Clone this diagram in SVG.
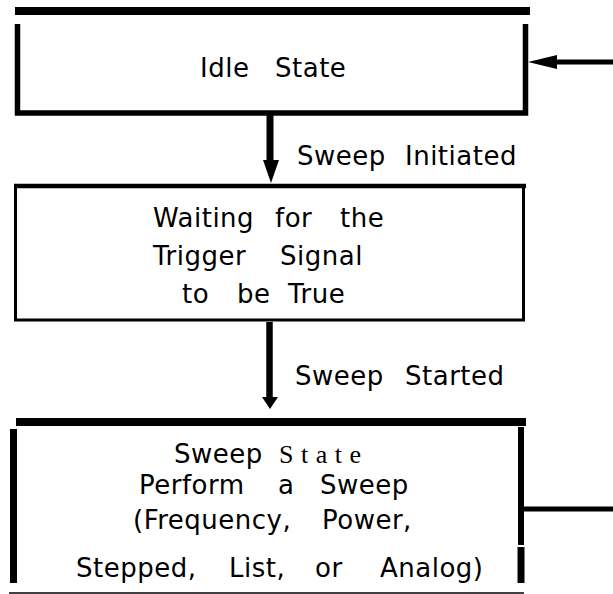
<svg xmlns="http://www.w3.org/2000/svg" width="613" height="594" viewBox="0 0 613 594">
<style>
.t{font-family:"DejaVu Sans","Liberation Sans",sans-serif;font-size:26px;letter-spacing:0.5px;fill:#000}
.s{font-family:"Liberation Serif","Times New Roman",serif;font-size:26px;letter-spacing:7.5px;fill:#000}
.k{stroke:#000;fill:none;stroke-linecap:butt}
</style>
<rect width="613" height="594" fill="#fff"/>
<g id="idle">
<line class="k" x1="15" y1="11" x2="530" y2="11" stroke-width="8"/>
<polyline class="k" points="17.5,24 17.5,113 525.5,113 525.5,24" stroke-width="5.5"/>
<text class="t" y="77"><tspan x="200">Idle</tspan><tspan x="275">State</tspan></text>
</g>
<g id="waiting">
<line class="k" x1="14" y1="186" x2="526" y2="186" stroke-width="4.5"/>
<polyline class="k" points="15.5,186 15.5,320 523.5,320 523.5,186" stroke-width="3"/>
<text class="t" y="227"><tspan x="153">Waiting</tspan><tspan x="275">for</tspan><tspan x="340">the</tspan></text>
<text class="t" y="265"><tspan x="153">Trigger</tspan><tspan x="280">Signal</tspan></text>
<text class="t" y="303"><tspan x="182">to</tspan><tspan x="237">be</tspan><tspan x="288">True</tspan></text>
</g>
<g id="sweep">
<line class="k" x1="16" y1="422" x2="526" y2="422" stroke-width="8"/>
<line class="k" x1="13.5" y1="429" x2="13.5" y2="583" stroke-width="7"/>
<line class="k" x1="521" y1="427" x2="521" y2="545" stroke-width="6"/>
<line class="k" x1="521" y1="547" x2="521" y2="583" stroke-width="7"/>
<line class="k" x1="9" y1="593" x2="524" y2="593" stroke-width="1.5"/>
<text class="t" y="463"><tspan x="174">Sweep</tspan><tspan class="s" x="279">State</tspan></text>
<text class="t" y="494"><tspan x="139">Perform</tspan><tspan x="278">a</tspan><tspan x="320">Sweep</tspan></text>
<text class="t" y="529"><tspan x="133">(Frequency,</tspan><tspan x="322">Power,</tspan></text>
<text class="t" y="577"><tspan x="76">Stepped,</tspan><tspan x="229">List,</tspan><tspan x="315">or</tspan><tspan x="380">Analog)</tspan></text>
</g>
<g id="connectors">
<line class="k" x1="613" y1="62" x2="553" y2="62" stroke-width="5"/>
<polygon points="528,62 557,55 557,69" fill="#000"/>
<line class="k" x1="270" y1="115" x2="270" y2="162" stroke-width="7"/>
<polygon points="271,183 263,160 279,160" fill="#000"/>
<line class="k" x1="269.5" y1="322" x2="269.5" y2="400" stroke-width="6.5"/>
<polygon points="270,409 262,397 278,397" fill="#000"/>
<line class="k" x1="524" y1="509" x2="613" y2="509" stroke-width="5"/>
<text class="t" y="165"><tspan x="297">Sweep</tspan><tspan x="405">Initiated</tspan></text>
<text class="t" y="385"><tspan x="295">Sweep</tspan><tspan x="405">Started</tspan></text>
</g>
</svg>
